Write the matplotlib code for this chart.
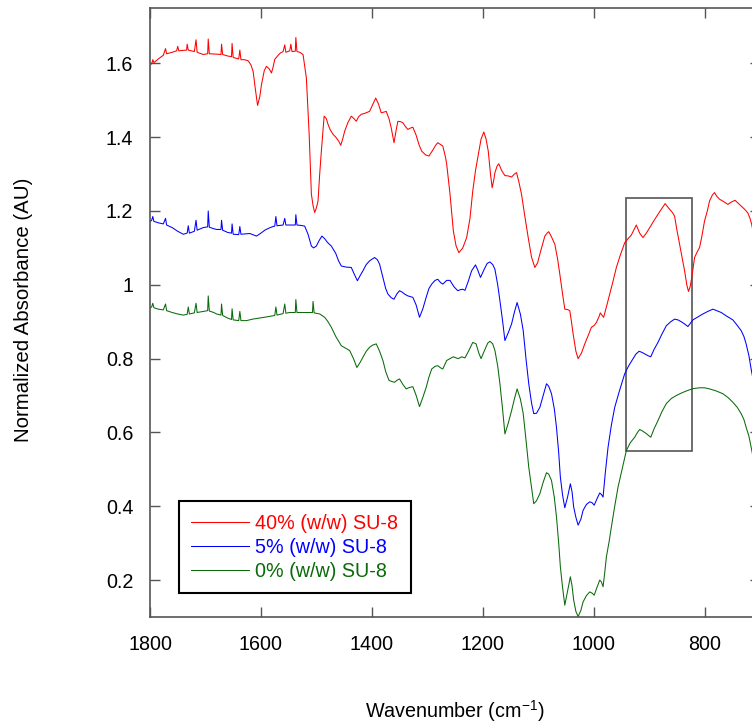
import matplotlib
matplotlib.use("Agg")
import matplotlib.pyplot as plt
from matplotlib.patches import Rectangle

plt.rcParams['font.family'] = ['Liberation Sans', 'DejaVu Sans']
plt.rcParams['mathtext.default'] = 'regular'

# ---------------- data ----------------
wn_red = [1800, 1797, 1795, 1793, 1785, 1776, 1772, 1770, 1760, 1752, 1750, 1748, 1740, 1734, 1733, 1731,
          1720, 1717, 1715, 1704, 1696, 1695, 1693, 1680, 1672, 1671, 1669, 1660, 1653, 1652, 1650, 1640,
          1638, 1636, 1630, 1623, 1618, 1614, 1610, 1606, 1602, 1599, 1594, 1590, 1585, 1581, 1578, 1575,
          1570, 1565, 1560, 1557, 1555, 1548, 1546, 1544, 1538, 1537, 1535, 1530, 1524, 1518, 1513, 1509,
          1506, 1503, 1500, 1497, 1494, 1491, 1486, 1482, 1479, 1475, 1470, 1465, 1460, 1456, 1452, 1449,
          1443, 1437, 1432, 1428, 1424, 1419, 1412, 1404, 1398, 1393, 1388, 1383, 1378, 1374, 1369, 1365,
          1360, 1356, 1353, 1348, 1344, 1340, 1335, 1330, 1326, 1320, 1315, 1310, 1303, 1297, 1290, 1284,
          1281, 1272, 1267, 1265, 1259, 1253, 1248, 1243, 1236, 1229, 1223, 1218, 1213, 1208, 1203, 1198,
          1194, 1190, 1186, 1183, 1180, 1178, 1174, 1171, 1166, 1160, 1154, 1148, 1143, 1139, 1135, 1130,
          1124, 1118, 1112, 1106, 1101, 1097, 1092, 1088, 1084, 1081, 1076, 1070, 1065, 1061, 1056, 1052,
          1047, 1043, 1040, 1037, 1032, 1028, 1022, 1016, 1010, 1004, 999, 995, 990, 988, 985, 982,
          977, 971, 965, 959, 952, 944, 938, 932, 927, 923, 917, 911, 905, 899, 892, 884,
          877, 871, 867, 863, 858, 854, 850, 845, 840, 836, 832, 829, 826, 823, 818, 813,
          809, 805, 800, 795, 791, 786, 782, 778, 773, 765, 758, 752, 745, 740, 734, 728,
          722, 718, 715, 712]
abs_red = [1.600, 1.598, 1.610, 1.602, 1.612, 1.622, 1.640, 1.626, 1.630, 1.634, 1.646, 1.634, 1.635, 1.636, 1.652, 1.636,
           1.632, 1.664, 1.630, 1.624, 1.626, 1.666, 1.626, 1.625, 1.624, 1.652, 1.624, 1.620, 1.618, 1.654, 1.616, 1.612,
           1.636, 1.610, 1.610, 1.607, 1.596, 1.578, 1.530, 1.486, 1.510, 1.542, 1.580, 1.592, 1.585, 1.574, 1.590, 1.611,
           1.620, 1.628, 1.632, 1.650, 1.630, 1.634, 1.652, 1.632, 1.633, 1.670, 1.632, 1.630, 1.624, 1.560, 1.408, 1.246,
           1.215, 1.196, 1.208, 1.227, 1.300, 1.362, 1.457, 1.450, 1.435, 1.420, 1.408, 1.400, 1.390, 1.378, 1.398, 1.416,
           1.440, 1.457, 1.450, 1.443, 1.455, 1.462, 1.465, 1.470, 1.490, 1.506, 1.490, 1.466, 1.468, 1.470, 1.450, 1.425,
           1.385, 1.420, 1.443, 1.442, 1.439, 1.430, 1.421, 1.425, 1.427, 1.405, 1.380, 1.362, 1.352, 1.349, 1.365, 1.380,
           1.385, 1.376, 1.345, 1.327, 1.246, 1.146, 1.105, 1.087, 1.100, 1.128, 1.180, 1.254, 1.310, 1.353, 1.395, 1.414,
           1.395, 1.362, 1.300, 1.263, 1.285, 1.304, 1.322, 1.328, 1.310, 1.296, 1.295, 1.292, 1.300, 1.304, 1.280, 1.245,
           1.185, 1.128, 1.075, 1.047, 1.060, 1.083, 1.110, 1.132, 1.140, 1.144, 1.130, 1.110, 1.070, 1.029, 0.975, 0.934,
           0.933, 0.930, 0.900, 0.867, 0.820, 0.800, 0.815, 0.840, 0.862, 0.885, 0.890, 0.898, 0.915, 0.924, 0.918, 0.912,
           0.940, 0.975, 1.010, 1.047, 1.080, 1.114, 1.125, 1.135, 1.150, 1.162, 1.140, 1.128, 1.140, 1.155, 1.172, 1.191,
           1.207, 1.220, 1.212, 1.205, 1.196, 1.186, 1.150, 1.110, 1.070, 1.038, 1.000, 0.982, 0.995, 1.020, 1.074, 1.090,
           1.101, 1.130, 1.173, 1.200, 1.227, 1.243, 1.250, 1.240, 1.232, 1.225, 1.218, 1.224, 1.229, 1.222, 1.214, 1.205,
           1.195, 1.180, 1.164, 1.140]

wn_blue = [1800, 1797, 1795, 1793, 1785, 1776, 1772, 1770, 1760, 1750, 1740, 1733, 1731, 1729, 1720, 1717,
           1715, 1704, 1696, 1695, 1693, 1685, 1680, 1672, 1671, 1669, 1660, 1653, 1652, 1650, 1640, 1638,
           1636, 1620, 1608, 1600, 1593, 1585, 1578, 1575, 1573, 1571, 1560, 1557, 1555, 1548, 1538, 1537,
           1535, 1528, 1521, 1515, 1509, 1505, 1500, 1495, 1490, 1485, 1480, 1473, 1465, 1460, 1455, 1446,
           1437, 1432, 1426, 1421, 1416, 1410, 1404, 1395, 1390, 1386, 1380, 1375, 1371, 1365, 1360, 1355,
           1350, 1345, 1341, 1335, 1326, 1320, 1314, 1308, 1302, 1297, 1292, 1286, 1281, 1276, 1272, 1265,
           1259, 1252, 1245, 1240, 1236, 1232, 1226, 1220, 1213, 1209, 1204, 1198, 1192, 1187, 1182, 1178,
           1173, 1169, 1164, 1160, 1154, 1148, 1143, 1138, 1132, 1127, 1122, 1117, 1112, 1108, 1103, 1097,
           1091, 1085, 1081, 1076, 1071, 1067, 1063, 1060, 1056, 1052, 1047, 1042, 1039, 1036, 1032, 1028,
           1023, 1019, 1013, 1007, 1003, 999, 994, 989, 986, 983, 979, 974, 968, 962, 953, 944,
           937, 929, 924, 918, 913, 908, 902, 897, 891, 884, 877, 869, 861, 854, 848, 842,
           836, 830, 826, 821, 812, 803, 794, 785, 778, 770, 760, 749, 742, 734, 729, 725,
           720, 716, 712]
abs_blue = [1.171, 1.175, 1.185, 1.172, 1.168, 1.165, 1.180, 1.162, 1.155, 1.145, 1.137, 1.140, 1.160, 1.140, 1.145, 1.175,
            1.148, 1.155, 1.157, 1.200, 1.156, 1.152, 1.150, 1.150, 1.175, 1.148, 1.142, 1.140, 1.165, 1.137, 1.136, 1.158,
            1.137, 1.139, 1.132, 1.140, 1.148, 1.154, 1.158, 1.159, 1.185, 1.160, 1.162, 1.180, 1.162, 1.162, 1.162, 1.190,
            1.162, 1.161, 1.159, 1.137, 1.105, 1.100, 1.105, 1.120, 1.132, 1.125, 1.115, 1.105, 1.085, 1.065, 1.051, 1.048,
            1.047, 1.030, 1.011, 1.025, 1.038, 1.055, 1.065, 1.074, 1.068, 1.056, 1.020, 0.990, 0.975, 0.965, 0.961, 0.975,
            0.984, 0.980, 0.975, 0.970, 0.966, 0.945, 0.912, 0.935, 0.966, 0.990, 1.002, 1.012, 1.015, 1.006, 1.002, 1.012,
            1.012, 0.995, 0.984, 0.987, 0.988, 0.985, 1.010, 1.038, 1.054, 1.040, 1.020, 1.040, 1.058, 1.062, 1.055, 1.042,
            1.000, 0.957, 0.900, 0.849, 0.870, 0.894, 0.925, 0.952, 0.920, 0.876, 0.800, 0.732, 0.680, 0.651, 0.652, 0.668,
            0.700, 0.732, 0.725, 0.705, 0.665, 0.614, 0.545, 0.479, 0.430, 0.396, 0.425, 0.461, 0.440, 0.398, 0.370, 0.349,
            0.365, 0.389, 0.405, 0.412, 0.410, 0.403, 0.420, 0.436, 0.432, 0.425, 0.490, 0.560, 0.620, 0.668, 0.715, 0.759,
            0.780, 0.800, 0.812, 0.820, 0.817, 0.813, 0.808, 0.805, 0.825, 0.844, 0.866, 0.889, 0.900, 0.907, 0.905, 0.900,
            0.894, 0.887, 0.895, 0.905, 0.913, 0.921, 0.928, 0.934, 0.930, 0.925, 0.915, 0.905, 0.892, 0.876, 0.860, 0.840,
            0.808, 0.772, 0.740]

wn_green = [1800, 1797, 1795, 1793, 1785, 1776, 1772, 1770, 1760, 1750, 1740, 1733, 1731, 1729, 1720, 1717,
            1715, 1704, 1696, 1695, 1693, 1685, 1680, 1672, 1671, 1669, 1660, 1653, 1652, 1650, 1640, 1638,
            1636, 1626, 1615, 1602, 1590, 1578, 1575, 1573, 1571, 1560, 1557, 1555, 1548, 1538, 1537, 1535,
            1520, 1507, 1506, 1504, 1494, 1485, 1479, 1473, 1465, 1455, 1447, 1440, 1433, 1427, 1421, 1416,
            1410, 1404, 1398, 1392, 1386, 1380, 1375, 1369, 1364, 1359, 1354, 1350, 1344, 1338, 1332, 1326,
            1320, 1314, 1308, 1302, 1297, 1292, 1286, 1281, 1276, 1272, 1265, 1259, 1253, 1248, 1244, 1238,
            1232, 1225, 1218, 1212, 1207, 1203, 1196, 1191, 1187, 1182, 1178, 1173, 1169, 1164, 1160, 1154,
            1148, 1143, 1138, 1132, 1127, 1122, 1117, 1112, 1108, 1103, 1097, 1091, 1085, 1081, 1076, 1071,
            1067, 1063, 1060, 1056, 1052, 1047, 1042, 1039, 1036, 1032, 1028, 1023, 1019, 1013, 1007, 1003,
            999, 994, 989, 986, 983, 980, 977, 972, 968, 962, 956, 948, 941, 934, 926, 921,
            917, 912, 906, 901, 897, 891, 884, 877, 869, 860, 851, 840, 830, 820, 809, 800,
            791, 780, 767, 758, 749, 741, 734, 729, 725, 720, 716, 712]
abs_green = [0.937, 0.940, 0.950, 0.938, 0.934, 0.932, 0.948, 0.930, 0.925, 0.921, 0.918, 0.920, 0.940, 0.921, 0.924, 0.950,
             0.925, 0.928, 0.930, 0.970, 0.929, 0.925, 0.921, 0.918, 0.948, 0.917, 0.910, 0.906, 0.935, 0.905, 0.903, 0.928,
             0.903, 0.903, 0.907, 0.910, 0.913, 0.916, 0.917, 0.940, 0.918, 0.922, 0.948, 0.923, 0.925, 0.925, 0.960, 0.925,
             0.925, 0.925, 0.955, 0.924, 0.921, 0.912, 0.900, 0.885, 0.860, 0.835, 0.828, 0.822, 0.800, 0.776, 0.790, 0.804,
             0.820, 0.831, 0.837, 0.840, 0.820, 0.795, 0.765, 0.741, 0.738, 0.736, 0.742, 0.745, 0.730, 0.718, 0.722, 0.724,
             0.700, 0.670, 0.695, 0.722, 0.750, 0.772, 0.779, 0.781, 0.775, 0.772, 0.795, 0.800, 0.805, 0.802, 0.800, 0.805,
             0.802, 0.822, 0.844, 0.840, 0.815, 0.800, 0.825, 0.842, 0.847, 0.840, 0.822, 0.780, 0.732, 0.660, 0.596, 0.625,
             0.659, 0.690, 0.718, 0.690, 0.651, 0.580, 0.506, 0.450, 0.407, 0.415, 0.434, 0.465, 0.491, 0.487, 0.470, 0.425,
             0.371, 0.300, 0.236, 0.180, 0.132, 0.170, 0.209, 0.185, 0.146, 0.115, 0.101, 0.118, 0.141, 0.158, 0.168, 0.165,
             0.159, 0.180, 0.200, 0.195, 0.182, 0.220, 0.263, 0.305, 0.344, 0.400, 0.452, 0.505, 0.551, 0.572, 0.587, 0.600,
             0.608, 0.604, 0.598, 0.592, 0.587, 0.610, 0.632, 0.656, 0.678, 0.692, 0.700, 0.708, 0.714, 0.719, 0.721, 0.721,
             0.718, 0.713, 0.705, 0.695, 0.682, 0.668, 0.651, 0.635, 0.614, 0.590, 0.560, 0.530]

labels = ["40% (w/w) SU-8", "5% (w/w) SU-8", "0% (w/w) SU-8"]
colors = ["#ff0000", "#0000ff", "#0a6a0a"]

x_ticks = [1800, 1600, 1400, 1200, 1000, 800]
y_ticks = [0.2, 0.4, 0.6, 0.8, 1.0, 1.2, 1.4, 1.6]
y_ticklabels = ["0.2", "0.4", "0.6", "0.8", "1", "1.2", "1.4", "1.6"]

box_x = (942, 823)
box_y = (0.551, 1.235)

# ---------------- figure ----------------
W, H = 752, 726
FS = 14.2
fig = plt.figure(figsize=(W / 100, H / 100), dpi=100)
left, right, top, bottom = 150, 760, 8, 617
ax = fig.add_axes([left / W, 1 - bottom / H, (right - left) / W, (bottom - top) / H])

for wn, a, lab, c in zip([wn_red, wn_blue, wn_green], [abs_red, abs_blue, abs_green], labels, colors):
    ax.plot(wn, a, color=c, lw=0.75, label=lab)

ax.add_patch(Rectangle((box_x[1], box_y[0]), box_x[0] - box_x[1], box_y[1] - box_y[0],
                       fill=False, edgecolor="#555555", lw=1.2))

ax.set_xlim(1800, 700)
ax.set_ylim(0.1, 1.75)
ax.set_xticks(x_ticks)
ax.set_xticklabels([str(t) for t in x_ticks])
ax.set_yticks(y_ticks)
ax.set_yticklabels(y_ticklabels)

for s in ax.spines.values():
    s.set_color("#555555")
    s.set_linewidth(1.2)
ax.tick_params(axis="both", direction="in", length=7, width=1.0, color="#555555",
               top=True, right=True, labelsize=FS, labelcolor="black")
ax.tick_params(axis="x", pad=13)
ax.tick_params(axis="y", pad=12)

ax.set_xlabel("Wavenumber (cm$^{-1}$)", fontsize=FS)
ax.set_ylabel("Normalized Absorbance (AU)", fontsize=14.7)
ax.xaxis.set_label_coords(0.5, -0.133)
ax.yaxis.set_label_coords(-0.192, 0.504)

leg = ax.legend(loc="lower left", bbox_to_anchor=(179 / W, 1 - 593 / H), bbox_transform=fig.transFigure,
                borderaxespad=0, fancybox=False, edgecolor="black", framealpha=1,
                fontsize=FS, handlelength=2.94, handletextpad=0.3, labelspacing=0.25,
                borderpad=0.63)
leg.get_frame().set_linewidth(1.5)
for txt, c in zip(leg.get_texts(), colors):
    txt.set_color(c)

fig.savefig("out.png", dpi=100)
